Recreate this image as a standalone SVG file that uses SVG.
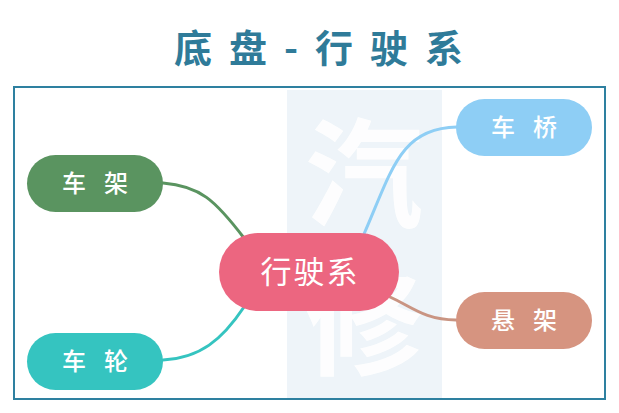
<svg xmlns="http://www.w3.org/2000/svg" width="619" height="413" viewBox="0 0 619 413">
<style>
.title{font-family:"Noto Sans CJK SC","Noto Sans",sans-serif;font-size:38px;font-weight:700;fill:#2f7b99;letter-spacing:17px}
.lbl{font-family:"Noto Sans CJK SC","Noto Sans",sans-serif;font-size:24px;font-weight:500;fill:#ffffff;text-anchor:middle;letter-spacing:18px}
.main{font-family:"Noto Sans CJK SC","Noto Sans",sans-serif;font-size:31px;fill:#ffffff;text-anchor:middle;letter-spacing:2px}
.wm{font-family:"Noto Sans CJK SC",sans-serif;font-weight:700;text-anchor:middle}
.conn{fill:none;stroke-width:3;stroke-linecap:round}
</style>
<rect width="619" height="413" fill="#ffffff"/>
<text class="title" x="174" y="62">底盘-行驶系</text>
<rect x="14" y="87" width="591" height="312" fill="#ffffff" stroke="#2e80a0" stroke-width="2"/>
<g id="watermark">
<rect x="287" y="90" width="155" height="308" fill="#eef4f9"/>
<text class="wm" x="364" y="218" font-size="118" fill="#ffffff" opacity="0.9">汽</text>
<text class="wm" x="364" y="366" font-size="118" fill="#ffffff" opacity="0.9">修</text>
</g>
<g id="connectors">
<path class="conn" stroke="#5a9460" d="M163,183 C200,186 215,200 244,238"/>
<path class="conn" stroke="#35c4c0" d="M163,360 C200,358 222,340 244,307"/>
<path class="conn" stroke="#8ecef5" d="M457,127 C400,128 392,170 364,234"/>
<path class="conn" stroke="#c99482" d="M456,320 C425,320 412,307 390,297"/>
</g>
<g id="node-center">
<rect x="219" y="233" width="180" height="78" rx="39" fill="#ec6680"/>
<text class="main" x="310" y="283">行驶系</text>
</g>
<g id="node-chejia">
<rect x="27" y="155" width="136" height="57" rx="28.5" fill="#5a9460"/>
<text class="lbl" x="104" y="192">车架</text>
</g>
<g id="node-chelun">
<rect x="27" y="333" width="136" height="57" rx="28.5" fill="#35c4c0"/>
<text class="lbl" x="104" y="370">车轮</text>
</g>
<g id="node-cheqiao">
<rect x="456" y="99" width="136" height="57" rx="28.5" fill="#8ecef5"/>
<text class="lbl" x="533" y="136">车桥</text>
</g>
<g id="node-xuanjia">
<rect x="456" y="292" width="136" height="57" rx="28.5" fill="#d69480"/>
<text class="lbl" x="533" y="329">悬架</text>
</g>
</svg>
